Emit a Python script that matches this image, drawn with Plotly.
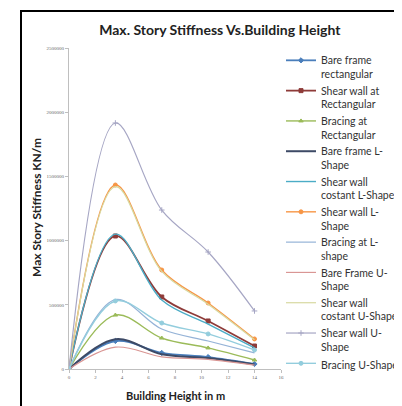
import plotly.graph_objects as go

heights = [0, 3.5, 7, 10.5, 14]

series_names = [
    "Bare frame<br>rectangular",
    "Shear wall at<br>Rectangular",
    "Bracing at<br>Rectangular",
    "Bare frame L-<br>Shape",
    "Shear wall<br>costant L-Shape",
    "Shear wall L-<br>Shape",
    "Bracing at L-<br>shape",
    "Bare Frame U-<br>Shape",
    "Shear wall<br>costant U-Shape",
    "Shear wall U-<br>Shape",
    "Bracing U-Shape",
]

bare_frame_rect = [0, 218000, 125000, 93000, 39000]
shear_wall_rect = [0, 1036000, 561000, 374000, 179000]
bracing_rect = [0, 420000, 241000, 164000, 70000]
bare_frame_l = [0, 232000, 115000, 85000, 35000]
shear_wall_const_l = [0, 1050000, 537000, 350000, 164000]
shear_wall_l = [0, 1433000, 771000, 514000, 234000]
bracing_l = [0, 540000, 311000, 218000, 125000]
bare_frame_u = [0, 170000, 95000, 75000, 30000]
shear_wall_const_u = [0, 1420000, 760000, 505000, 228000]
shear_wall_u = [0, 1916000, 1238000, 911000, 452000]
bracing_u = [0, 530000, 358000, 273000, 148000]

all_values = [bare_frame_rect, shear_wall_rect, bracing_rect, bare_frame_l,
              shear_wall_const_l, shear_wall_l, bracing_l, bare_frame_u,
              shear_wall_const_u, shear_wall_u, bracing_u]

colors = ["#4A7EBB", "#8E3B39", "#9BBB59", "#3D4A66", "#4BACC6", "#F79646",
          "#95B3D7", "#D99694", "#D7D9A0", "#A6A6C4", "#93CDDD"]
symbols = ["diamond", "square", "triangle-up", None, None, "circle",
           None, None, None, "cross-thin", "circle"]
widths = [1.8, 1.8, 1.4, 2.0, 1.4, 1.4, 1.2, 1.2, 1.2, 1.2, 1.4]

FONT = "Lato, Carlito, Open Sans, sans-serif"

fig = go.Figure()
for name, vals, col, sym, w in zip(series_names, all_values, colors, symbols, widths):
    if sym is None:
        mode = "lines"
        marker = None
    else:
        mode = "lines+markers"
        marker = dict(symbol=sym, size=4, color=col, line=dict(color=col, width=1))
    fig.add_trace(go.Scatter(
        x=heights, y=vals, name=name, mode=mode,
        line=dict(color=col, width=w, shape="spline", smoothing=1.0),
        marker=marker,
    ))

fig.update_layout(
    width=402, height=406, autosize=False,
    margin=dict(l=61, r=129, t=40, b=45, autoexpand=False),
    paper_bgcolor="white", plot_bgcolor="white",
    title=dict(text="<b>Max. Story Stiffness Vs.Building Height</b>",
               x=0.527, xref="container", xanchor="center",
               y=1 - 22 / 406, yref="container", yanchor="middle",
               font=dict(family=FONT, size=14, color="#222")),
    showlegend=True,
    legend=dict(x=273 / 402, y=1 - 39 / 406, xref="container", yref="container",
                xanchor="left", yanchor="top", valign="top", maxheight=400,
                font=dict(family=FONT, size=10.5, color="#333"),
                tracegroupgap=0, itemwidth=30, bgcolor="rgba(0,0,0,0)"),
    font=dict(family=FONT),
)

fig.update_xaxes(range=[0, 16], tick0=0, dtick=2, showgrid=False, zeroline=False,
                 showline=True, linecolor="#BFBFBF", linewidth=1,
                 ticks="outside", ticklen=3, tickcolor="#BFBFBF",
                 tickfont=dict(size=5, color="#666", family="Liberation Serif, serif"))
fig.update_yaxes(range=[0, 2500000], tick0=0, dtick=500000, showgrid=False, zeroline=False,
                 showline=True, linecolor="#BFBFBF", linewidth=1,
                 ticks="outside", ticklen=3, tickcolor="#BFBFBF", tickformat="d",
                 tickfont=dict(size=5, color="#666", family="Liberation Serif, serif"))

fig.add_annotation(text="<b>Max Story Stiffness KN/m</b>", xref="paper", yref="paper",
                   x=(28 - 61) / 212, y=(361 - 200) / 321, textangle=-90, showarrow=False,
                   xanchor="center", yanchor="middle",
                   font=dict(family=FONT, size=12, color="#222"))
fig.add_annotation(text="<b>Building Height in m</b>", xref="paper", yref="paper",
                   x=(167 - 61) / 212, y=(361 - 388) / 321, showarrow=False,
                   xanchor="center", yanchor="middle",
                   font=dict(family=FONT, size=11, color="#222"))

# outer black frame
fig.add_shape(type="rect", xref="paper", yref="paper",
              x0=(13 - 61) / 212, x1=(420 - 61) / 212,
              y0=(361 - 404) / 321, y1=(361 - 3) / 321,
              line=dict(color="black", width=2), fillcolor="rgba(0,0,0,0)", layer="below")

fig.write_html("out.html")
